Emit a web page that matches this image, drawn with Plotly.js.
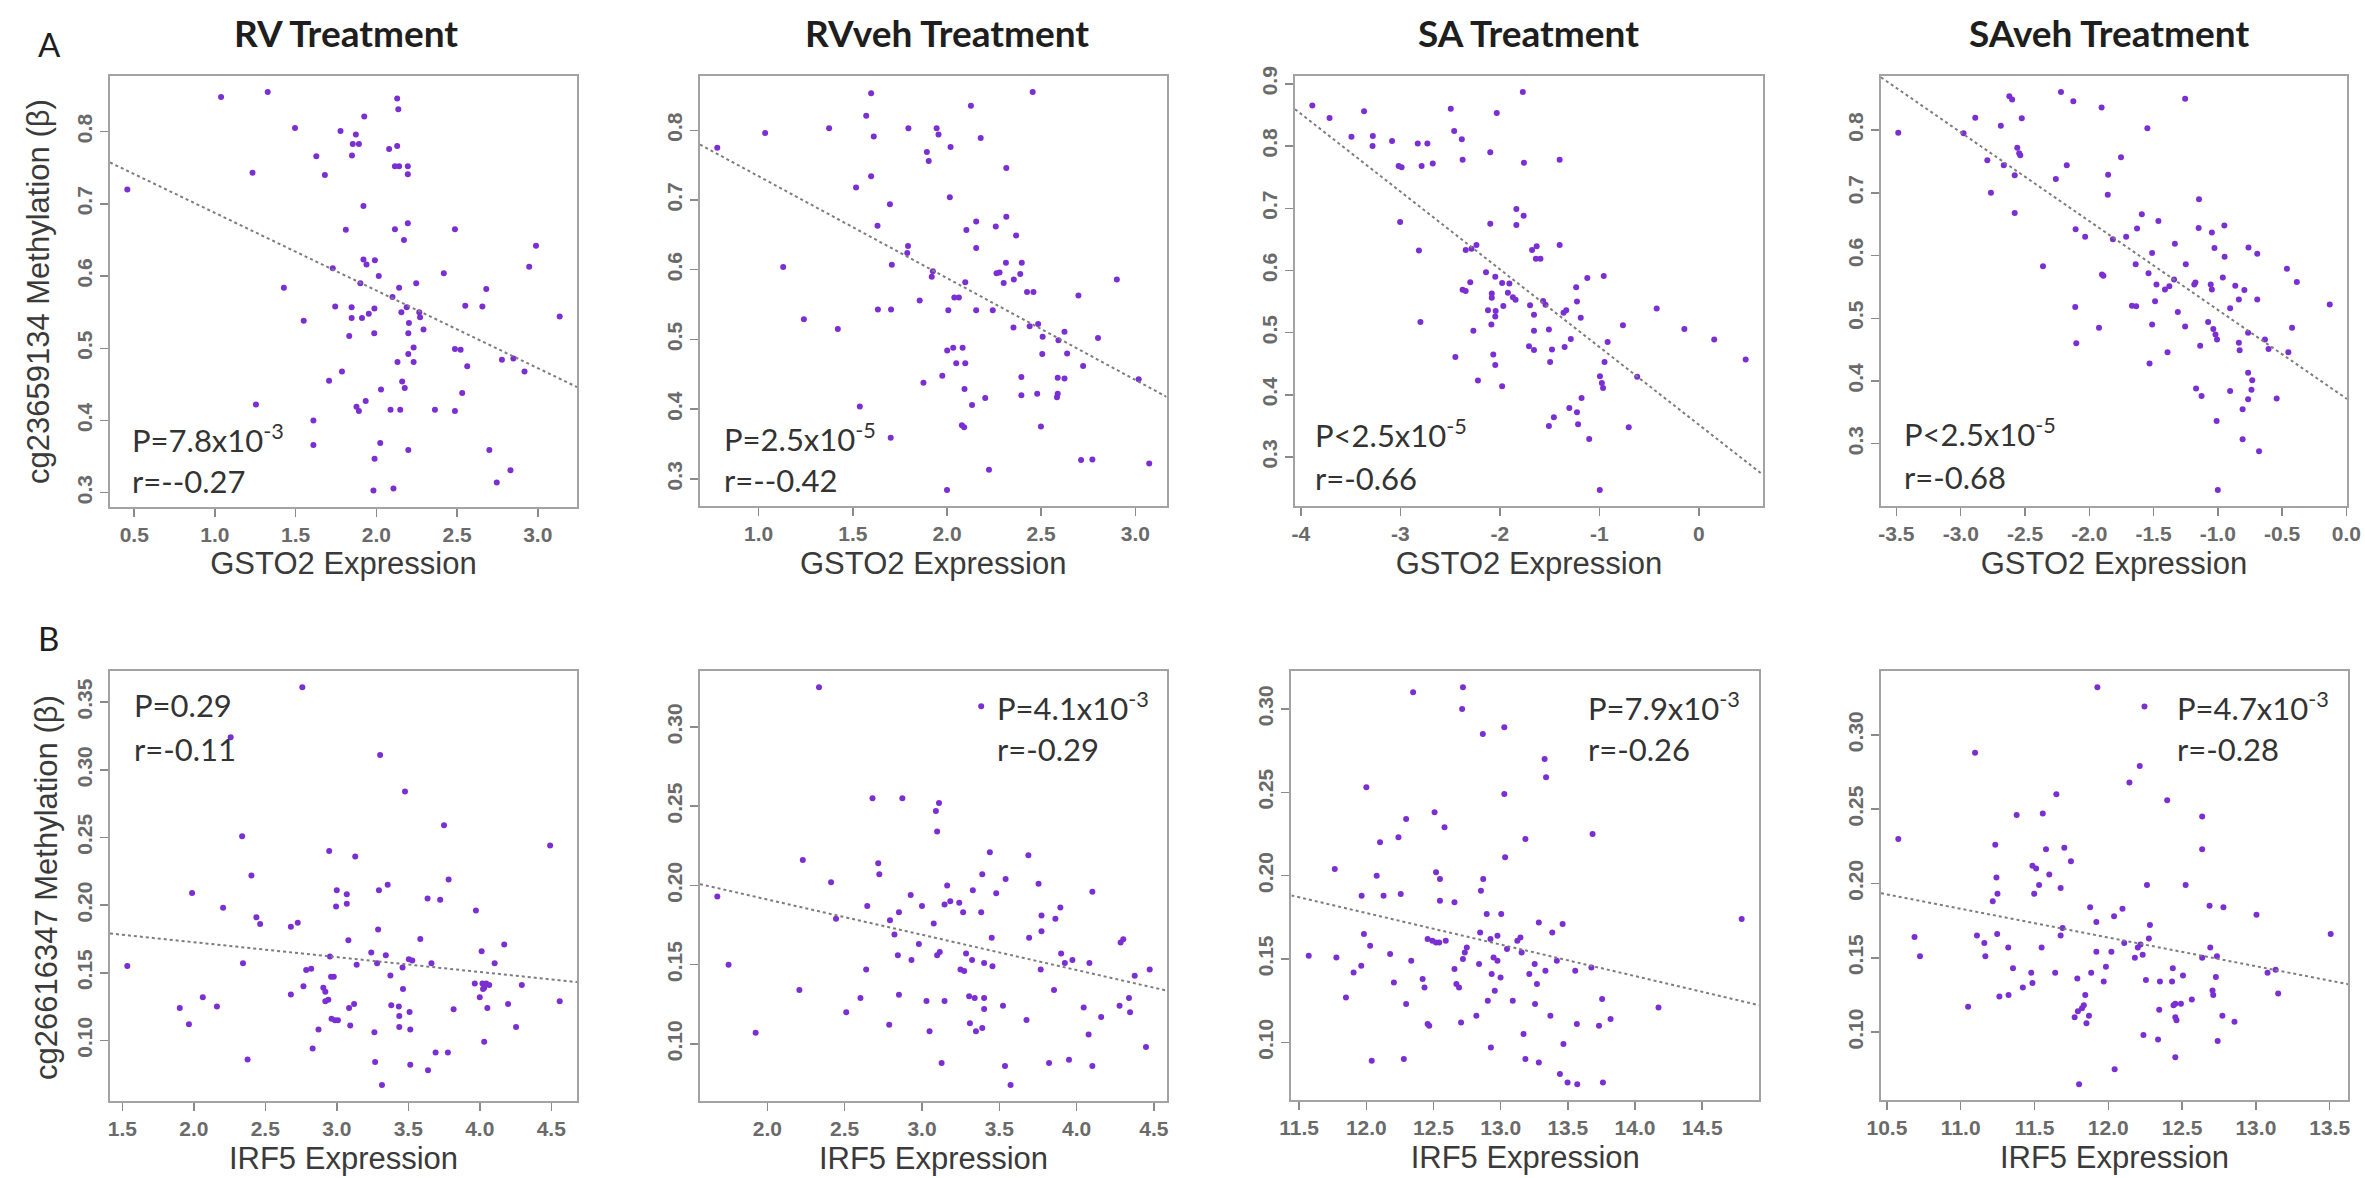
<!DOCTYPE html>
<html><head><meta charset="utf-8">
<script src="https://cdn.plot.ly/plotly-3.0.1.min.js"></script>
<style>html,body{margin:0;padding:0;background:#fff}</style>
</head><body><div id="chart" style="width:2365px;height:1178px"></div>
<script>
// ---------- text ----------
const panelTitles = ['RV Treatment', 'RVveh Treatment', 'SA Treatment', 'SAveh Treatment'];
const rowLetters = ['A', 'B'];
const xAxisTitles = ['GSTO2 Expression', 'GSTO2 Expression', 'GSTO2 Expression', 'GSTO2 Expression',
                     'IRF5 Expression', 'IRF5 Expression', 'IRF5 Expression', 'IRF5 Expression'];
const yAxisTitles = ['cg23659134 Methylation (β)', 'cg26616347 Methylation (β)'];
const pLabels = ['P=7.8x10<sup>-3</sup>', 'P=2.5x10<sup>-5</sup>', 'P<2.5x10<sup>-5</sup>', 'P<2.5x10<sup>-5</sup>',
                 'P=0.29', 'P=4.1x10<sup>-3</sup>', 'P=7.9x10<sup>-3</sup>', 'P=4.7x10<sup>-3</sup>'];
const rLabels = ['r=--0.27', 'r=--0.42', 'r=-0.66', 'r=-0.68', 'r=-0.11', 'r=-0.29', 'r=-0.26', 'r=-0.28'];

// ---------- data: GSTO2 expression vs cg23659134 methylation ----------
const rvGstoX = [0.457,1.038,1.327,1.233,1.496,1.628,1.681,1.427,1.550,1.254,
  1.610,1.610,1.925,1.778,1.873,1.854,1.892,1.849,2.129,2.136,
  2.079,2.129,2.115,2.141,2.195,2.195,1.920,1.811,2.115,2.195,
  2.171,2.487,2.989,2.947,1.730,1.920,1.939,1.991,2.015,1.901,
  2.418,2.681,2.247,2.141,2.100,1.745,1.847,1.847,1.911,1.953,
  1.988,2.155,2.188,2.266,2.271,2.202,2.198,2.292,2.551,2.657,
  3.136,1.987,1.832,2.231,2.198,2.131,2.231,2.487,2.522,2.563,
  2.778,2.849,2.918,1.787,1.707,2.160,2.176,2.029,2.532,1.934,
  1.877,1.892,2.088,2.148,2.363,2.487,2.024,2.198,1.989,2.700,
  2.831,2.746,1.982,2.106];
const rvGstoY = [0.720,0.848,0.855,0.743,0.805,0.766,0.740,0.584,0.538,0.422,
  0.400,0.366,0.821,0.801,0.796,0.783,0.783,0.767,0.846,0.831,
  0.776,0.780,0.752,0.752,0.752,0.741,0.697,0.664,0.665,0.673,
  0.650,0.665,0.642,0.613,0.611,0.623,0.616,0.622,0.600,0.590,
  0.604,0.582,0.590,0.584,0.571,0.558,0.557,0.542,0.542,0.548,
  0.555,0.550,0.557,0.550,0.543,0.535,0.521,0.526,0.559,0.558,
  0.544,0.521,0.517,0.501,0.492,0.481,0.481,0.499,0.498,0.475,
  0.484,0.486,0.468,0.468,0.455,0.454,0.445,0.443,0.438,0.427,
  0.419,0.413,0.415,0.415,0.415,0.413,0.369,0.359,0.347,0.359,
  0.331,0.314,0.303,0.306];

const rvvehGstoX = [0.780,1.034,1.374,1.130,1.240,1.420,1.597,1.571,1.611,1.795,
  1.597,1.517,1.697,1.631,1.945,1.955,1.893,1.903,2.019,2.127,
  2.179,2.455,2.315,2.015,2.103,2.155,2.155,2.259,2.315,2.367,
  1.793,1.789,1.707,1.925,1.919,2.097,2.263,2.279,2.313,2.301,
  2.355,2.389,2.397,2.425,2.459,2.698,2.902,1.633,1.703,1.855,
  2.039,2.063,2.007,2.155,2.243,2.353,2.439,2.484,2.508,2.592,
  2.624,2.802,2.506,2.638,2.723,3.018,2.001,2.033,2.083,2.049,
  2.097,1.975,1.875,2.395,2.588,2.624,2.093,2.395,2.479,2.588,
  2.584,2.133,2.203,1.537,2.079,2.091,2.499,1.701,2.712,2.772,
  3.074,2.223,2.000];
const rvvehGstoY = [0.775,0.796,0.803,0.604,0.529,0.515,0.853,0.821,0.791,0.803,
  0.734,0.718,0.694,0.663,0.803,0.794,0.769,0.756,0.776,0.835,
  0.789,0.855,0.746,0.704,0.657,0.669,0.631,0.662,0.676,0.649,
  0.634,0.624,0.607,0.598,0.590,0.582,0.595,0.596,0.610,0.581,
  0.586,0.594,0.610,0.568,0.568,0.563,0.586,0.543,0.543,0.556,
  0.560,0.560,0.542,0.542,0.542,0.517,0.519,0.522,0.504,0.499,
  0.511,0.502,0.479,0.480,0.462,0.443,0.484,0.488,0.488,0.466,
  0.466,0.448,0.438,0.446,0.445,0.444,0.429,0.420,0.422,0.422,
  0.417,0.406,0.416,0.404,0.377,0.374,0.375,0.359,0.327,0.328,
  0.322,0.313,0.284];

const saGstoX = [-3.884,-3.711,-3.364,-3.491,-3.276,-3.279,-3.083,-2.825,-2.728,-3.017,
  -2.987,-2.786,-2.674,-2.493,-2.031,-1.769,-2.459,-2.382,-2.374,-2.096,
  -1.758,-1.399,-3.002,-1.834,-1.761,-1.834,-2.096,-2.813,-2.343,-2.285,
  -2.235,-1.676,-1.630,-1.638,-1.592,-1.399,-2.798,-2.374,-2.343,-2.297,
  -2.139,-2.046,-1.977,-1.904,-2.081,-2.081,-1.919,-1.869,-1.842,-1.965,
  -2.119,-2.042,-2.046,-2.085,-2.266,-1.696,-1.565,-1.541,-1.657,-1.360,
  -1.333,-1.233,-1.121,-0.956,-1.225,-1.187,-1.657,-1.507,-0.763,-0.424,
  -0.146,0.154,0.470,-1.707,-1.657,-1.476,-1.349,-1.287,-0.917,-1.495,
  -0.948,-2.447,-2.066,-2.046,-2.220,-1.977,-0.620,-0.994,-0.975,-0.963,
  -1.179,-1.302,-1.225,-1.457,-1.507,-1.214,-0.705,-1.102,-0.996];
const saGstoY = [0.865,0.845,0.856,0.815,0.816,0.800,0.808,0.804,0.804,0.768,
  0.766,0.768,0.772,0.860,0.853,0.887,0.824,0.811,0.778,0.790,
  0.773,0.778,0.678,0.699,0.688,0.673,0.675,0.632,0.633,0.635,
  0.641,0.633,0.639,0.619,0.619,0.641,0.517,0.569,0.567,0.581,
  0.597,0.590,0.580,0.579,0.563,0.556,0.564,0.557,0.553,0.543,
  0.536,0.535,0.526,0.513,0.503,0.544,0.551,0.545,0.529,0.532,
  0.536,0.573,0.588,0.591,0.550,0.524,0.503,0.505,0.512,0.539,
  0.506,0.489,0.457,0.478,0.472,0.473,0.477,0.490,0.485,0.453,
  0.453,0.461,0.465,0.448,0.423,0.414,0.429,0.430,0.419,0.411,
  0.395,0.379,0.372,0.364,0.350,0.353,0.348,0.329,0.247];

const savehGstoX = [-3.486,-2.978,-2.887,-2.688,-2.622,-2.600,-2.525,-2.220,-2.124,-1.904,
  -1.254,-1.548,-2.793,-2.665,-2.560,-2.545,-2.537,-2.580,-2.765,-2.580,
  -2.175,-2.260,-1.753,-1.853,-1.856,-2.360,-2.106,-2.032,-1.816,-1.901,
  -1.890,-2.109,-1.924,-2.101,-1.713,-1.628,-1.591,-1.462,-1.511,-1.639,
  -1.539,-1.477,-1.411,-1.377,-1.340,-1.334,-1.249,-1.146,-1.149,-1.046,
  -0.949,-1.026,-0.947,-0.761,-0.693,-0.462,-0.385,-1.183,-1.174,-1.055,
  -1.046,-0.961,-0.864,-0.793,-0.836,-0.693,-0.904,-0.129,-1.668,-1.635,
  -1.488,-1.511,-1.311,-1.254,-1.075,-1.035,-1.018,-1.006,-1.137,-1.391,
  -1.531,-0.764,-0.836,-0.830,-0.633,-0.605,-0.422,-0.451,-0.764,-0.732,
  -0.738,-0.764,-0.807,-0.904,-1.169,-1.126,-0.542,-1.009,-0.807,-0.679,
  -1.000];
const savehGstoY = [0.796,0.795,0.820,0.807,0.854,0.849,0.819,0.861,0.846,0.836,
  0.850,0.803,0.752,0.744,0.772,0.763,0.760,0.728,0.700,0.668,
  0.744,0.722,0.757,0.729,0.697,0.583,0.642,0.630,0.626,0.570,
  0.568,0.518,0.485,0.460,0.630,0.643,0.666,0.655,0.604,0.586,
  0.572,0.554,0.546,0.551,0.562,0.619,0.586,0.690,0.644,0.637,
  0.648,0.612,0.598,0.613,0.603,0.579,0.558,0.554,0.557,0.554,
  0.546,0.565,0.552,0.545,0.530,0.530,0.516,0.522,0.520,0.519,
  0.527,0.490,0.510,0.487,0.494,0.483,0.474,0.466,0.456,0.446,
  0.428,0.477,0.461,0.449,0.466,0.451,0.485,0.446,0.413,0.401,
  0.386,0.371,0.355,0.384,0.388,0.376,0.372,0.336,0.307,0.288,
  0.226];

// ---------- data: IRF5 expression vs cg26616347 methylation ----------
const rvIrfX = [1.535,1.902,1.966,1.988,2.063,2.162,2.205,2.258,2.338,2.344,
  2.376,2.403,2.438,2.464,2.679,2.679,2.727,2.759,2.767,2.786,
  2.821,2.831,2.872,2.906,2.920,2.941,2.920,2.952,2.947,2.960,
  2.979,2.963,2.987,3.008,3.000,2.995,3.070,3.070,3.081,3.086,
  3.121,3.094,3.129,3.139,3.241,3.263,3.268,3.282,3.289,3.295,
  3.303,3.316,3.343,3.356,3.375,3.381,3.434,3.437,3.437,3.463,
  3.460,3.477,3.504,3.528,3.509,3.514,3.514,3.584,3.635,3.638,
  3.662,3.691,3.777,3.723,3.750,3.782,3.817,3.973,3.965,4.019,
  4.045,4.000,4.023,4.031,4.013,4.031,4.053,4.066,4.104,4.171,
  4.198,4.254,4.294,4.492,4.559];
const rvIrfY = [0.155,0.124,0.112,0.209,0.132,0.125,0.198,0.324,0.251,0.157,
  0.086,0.222,0.191,0.186,0.134,0.184,0.187,0.361,0.140,0.152,
  0.153,0.094,0.108,0.139,0.136,0.130,0.129,0.162,0.240,0.147,
  0.147,0.116,0.115,0.115,0.211,0.199,0.208,0.201,0.174,0.124,
  0.127,0.111,0.236,0.156,0.165,0.106,0.084,0.157,0.182,0.211,
  0.311,0.067,0.163,0.215,0.148,0.126,0.125,0.118,0.110,0.138,
  0.154,0.284,0.160,0.159,0.121,0.108,0.082,0.175,0.205,0.078,
  0.157,0.091,0.091,0.204,0.259,0.219,0.123,0.196,0.142,0.142,
  0.142,0.132,0.138,0.139,0.166,0.099,0.124,0.141,0.157,0.171,
  0.127,0.110,0.141,0.244,0.129];

const rvvehIrfX = [1.676,1.749,1.924,2.207,2.229,2.334,2.412,2.444,2.510,2.602,
  2.639,2.646,2.680,2.717,2.724,2.788,2.793,2.822,2.844,2.851,
  2.851,2.873,2.927,2.932,3.000,2.980,3.029,3.049,3.076,3.090,
  3.110,3.098,3.098,3.115,3.127,3.146,3.146,3.163,3.183,3.241,
  3.266,3.249,3.273,3.285,3.305,3.310,3.349,3.329,3.324,3.341,
  3.383,3.390,3.390,3.402,3.402,3.402,3.439,3.451,3.456,3.480,
  3.524,3.537,3.541,3.573,3.383,3.676,3.688,3.693,3.754,3.768,
  3.773,3.773,3.822,3.854,3.863,3.895,3.900,3.924,3.973,3.951,
  4.046,4.078,4.083,4.102,4.102,4.159,4.278,4.285,4.302,4.339,
  4.346,4.376,4.449,4.473];
const rvvehIrfY = [0.193,0.150,0.107,0.134,0.216,0.325,0.202,0.179,0.120,0.129,
  0.147,0.187,0.255,0.214,0.207,0.112,0.178,0.169,0.156,0.183,
  0.131,0.255,0.194,0.153,0.187,0.163,0.127,0.108,0.176,0.247,
  0.252,0.234,0.156,0.158,0.088,0.127,0.188,0.200,0.190,0.189,
  0.183,0.147,0.146,0.157,0.130,0.113,0.108,0.197,0.153,0.129,
  0.183,0.207,0.110,0.151,0.129,0.122,0.221,0.167,0.149,0.195,
  0.124,0.086,0.204,0.074,0.313,0.115,0.219,0.167,0.201,0.147,
  0.181,0.171,0.088,0.134,0.179,0.186,0.157,0.151,0.153,0.090,
  0.123,0.106,0.151,0.196,0.086,0.117,0.124,0.164,0.166,0.129,
  0.120,0.143,0.098,0.147];

const saIrfX = [11.571,11.777,11.765,11.848,11.905,11.962,11.965,11.982,12.000,12.028,
  12.040,12.077,12.102,12.128,12.177,12.205,12.239,12.256,12.279,12.296,
  12.296,12.334,12.348,12.419,12.433,12.456,12.468,12.456,12.491,12.519,
  12.542,12.508,12.519,12.548,12.548,12.582,12.591,12.656,12.656,12.670,
  12.690,12.705,12.719,12.713,12.719,12.733,12.748,12.819,12.839,12.847,
  12.853,12.867,12.870,12.896,12.904,12.924,12.927,12.933,12.947,12.976,
  12.956,12.976,12.999,13.004,13.027,13.027,13.033,13.047,13.090,13.124,
  13.147,13.156,13.170,13.184,13.184,13.213,13.253,13.256,13.270,13.284,
  13.284,13.327,13.338,13.333,13.370,13.384,13.418,13.441,13.461,13.467,
  13.498,13.570,13.555,13.567,13.675,13.684,13.732,13.755,13.761,13.818,
  14.175,14.794];
const saIrfY = [0.152,0.151,0.204,0.127,0.142,0.146,0.188,0.165,0.253,0.158,
  0.089,0.200,0.220,0.188,0.153,0.136,0.223,0.189,0.090,0.234,
  0.123,0.149,0.310,0.138,0.133,0.111,0.110,0.162,0.161,0.160,
  0.160,0.238,0.202,0.198,0.185,0.229,0.161,0.184,0.144,0.135,
  0.133,0.112,0.313,0.300,0.150,0.154,0.157,0.116,0.147,0.166,
  0.191,0.285,0.198,0.177,0.125,0.162,0.097,0.141,0.151,0.149,
  0.131,0.164,0.139,0.177,0.289,0.249,0.211,0.156,0.125,0.161,
  0.163,0.154,0.105,0.090,0.222,0.141,0.147,0.123,0.135,0.088,
  0.172,0.270,0.259,0.143,0.116,0.166,0.149,0.081,0.171,0.099,
  0.076,0.075,0.143,0.111,0.145,0.225,0.110,0.126,0.076,0.114,
  0.121,0.174];

const savehIrfX = [10.577,10.687,10.724,11.050,11.097,11.110,11.160,11.167,11.217,11.234,
  11.242,11.249,11.247,11.262,11.324,11.322,11.354,11.379,11.421,11.478,
  11.486,11.486,11.511,11.498,11.531,11.548,11.556,11.578,11.600,11.648,
  11.640,11.677,11.677,11.690,11.702,11.747,11.772,11.794,11.822,11.834,
  11.790,11.844,11.852,11.869,11.802,11.877,11.884,11.919,11.919,11.926,
  11.969,11.984,12.021,12.039,12.043,12.096,12.108,12.143,12.180,12.200,
  12.218,12.213,12.233,12.238,12.245,12.255,12.262,12.275,12.282,12.337,
  12.345,12.350,12.399,12.432,12.437,12.442,12.454,12.454,12.462,12.454,
  12.492,12.506,12.524,12.566,12.636,12.636,12.636,12.686,12.691,12.706,
  12.711,12.729,12.736,12.741,12.773,12.780,12.855,13.004,13.079,13.134,
  13.151,13.507];
const savehIrfY = [0.230,0.164,0.151,0.117,0.288,0.165,0.160,0.151,0.188,0.226,
  0.204,0.193,0.166,0.124,0.125,0.157,0.143,0.246,0.130,0.140,
  0.133,0.212,0.210,0.193,0.199,0.157,0.247,0.223,0.206,0.260,
  0.140,0.197,0.165,0.170,0.224,0.215,0.110,0.114,0.116,0.118,
  0.136,0.125,0.106,0.111,0.065,0.184,0.140,0.174,0.154,0.332,
  0.134,0.144,0.154,0.178,0.075,0.183,0.160,0.268,0.150,0.157,
  0.159,0.279,0.152,0.098,0.319,0.135,0.199,0.163,0.172,0.095,
  0.115,0.134,0.256,0.134,0.143,0.118,0.119,0.110,0.108,0.083,
  0.119,0.138,0.199,0.122,0.245,0.223,0.150,0.185,0.157,0.128,
  0.125,0.137,0.151,0.094,0.111,0.184,0.107,0.179,0.140,0.142,
  0.126,0.166];

// fitted regression lines: y = intercept + slope * x
const fitSlope     = [-0.1075, -0.146, -0.125, -0.1415, -0.0110, -0.02225, -0.0189, -0.01933];
const fitIntercept = [ 0.795,   0.880,  0.352,  0.372,   0.1946,  0.2356,   0.4044,  0.3956];

// tick values and labels
const xTickVals = [[0.5,1,1.5,2,2.5,3], [1,1.5,2,2.5,3], [-4,-3,-2,-1,0], [-3.5,-3,-2.5,-2,-1.5,-1,-0.5,0],
  [1.5,2,2.5,3,3.5,4,4.5], [2,2.5,3,3.5,4,4.5], [11.5,12,12.5,13,13.5,14,14.5], [10.5,11,11.5,12,12.5,13,13.5]];
const xTickText = [['0.5','1.0','1.5','2.0','2.5','3.0'], ['1.0','1.5','2.0','2.5','3.0'], ['-4','-3','-2','-1','0'],
  ['-3.5','-3.0','-2.5','-2.0','-1.5','-1.0','-0.5','0.0'],
  ['1.5','2.0','2.5','3.0','3.5','4.0','4.5'], ['2.0','2.5','3.0','3.5','4.0','4.5'],
  ['11.5','12.0','12.5','13.0','13.5','14.0','14.5'], ['10.5','11.0','11.5','12.0','12.5','13.0','13.5']];
const yTickVals = [[0.3,0.4,0.5,0.6,0.7,0.8], [0.3,0.4,0.5,0.6,0.7,0.8], [0.3,0.4,0.5,0.6,0.7,0.8,0.9], [0.3,0.4,0.5,0.6,0.7,0.8],
  [0.10,0.15,0.20,0.25,0.30,0.35], [0.10,0.15,0.20,0.25,0.30], [0.10,0.15,0.20,0.25,0.30], [0.10,0.15,0.20,0.25,0.30]];
const yTickText = [['0.3','0.4','0.5','0.6','0.7','0.8'], ['0.3','0.4','0.5','0.6','0.7','0.8'], ['0.3','0.4','0.5','0.6','0.7','0.8','0.9'],
  ['0.3','0.4','0.5','0.6','0.7','0.8'], ['0.10','0.15','0.20','0.25','0.30','0.35'], ['0.10','0.15','0.20','0.25','0.30'],
  ['0.10','0.15','0.20','0.25','0.30'], ['0.10','0.15','0.20','0.25','0.30']];

// ---------- layout (pixels on the 2365x1178 page) ----------
const W = 2365, H = 1178;
const boxes = [[110,577,76,506.5],[700,1166.5,76,506],[1295,1763,76,506],[1881,2347,76,506],
               [110,577,671.4,1101],[700,1167,671.4,1101],[1291.4,1759,671.4,1100],[1881,2348,671.4,1100]];
const titlePos = [[346,32],[947,32],[1529,32],[2109,32]];
const letterPos = [[49,44],[48,638]];
const yTitlePos = [[38,292],[46,888]];
const statPos = [[130,438,481],[722,437,480],[1313,433,478],[1902,432,477],
                 [132,705,749],[995,707,749],[1586,707,749],[2175,707,749]];
const fx = p => p / W, fy = p => 1 - p / H;

const xsAll = [rvGstoX, rvvehGstoX, saGstoX, savehGstoX, rvIrfX, rvvehIrfX, saIrfX, savehIrfX];
const ysAll = [rvGstoY, rvvehGstoY, saGstoY, savehGstoY, rvIrfY, rvvehIrfY, saIrfY, savehIrfY];

function padRange(a) {
  const mn = Math.min(...a), mx = Math.max(...a), p = 0.04 * (mx - mn);
  return [mn - p, mx + p];
}

const purple = '#7b2fd2';
const tickFont = {family: 'Liberation Sans, Arial, sans-serif', size: 21, color: '#6a6a6a', weight: 'bold'};
const titleFont = {family: 'Liberation Sans, Arial, sans-serif', size: 31, color: '#3a3a3a'};

const traces = [];
const layout = {
  width: W, height: H, margin: {l: 0, r: 0, t: 0, b: 0},
  paper_bgcolor: '#fff', plot_bgcolor: '#fff', showlegend: false,
  annotations: [], font: {family: 'Liberation Sans, Arial, sans-serif'}
};

for (let i = 0; i < 8; i++) {
  const s = i === 0 ? '' : String(i + 1);
  const xr = padRange(xsAll[i]), yr = padRange(ysAll[i]);
  traces.push({
    type: 'scatter', mode: 'markers', x: xsAll[i], y: ysAll[i],
    xaxis: 'x' + s, yaxis: 'y' + s,
    marker: {color: purple, size: 6}, hoverinfo: 'x+y'
  });
  traces.push({
    type: 'scatter', mode: 'lines', x: xr,
    y: xr.map(v => fitIntercept[i] + fitSlope[i] * v),
    xaxis: 'x' + s, yaxis: 'y' + s,
    line: {color: '#7d7d7d', width: 2, dash: 'dot'}, hoverinfo: 'skip'
  });
  const b = boxes[i];
  const common = {
    showgrid: false, zeroline: false, showline: true, mirror: true,
    linecolor: '#a3a3a3', linewidth: 2, ticks: 'outside', ticklen: 8, tickwidth: 1.5,
    tickcolor: '#8a8a8a', tickfont: tickFont, fixedrange: true
  };
  layout['xaxis' + s] = Object.assign({}, common, {
    domain: [fx(b[0]), fx(b[1])], range: xr, anchor: 'y' + s,
    tickmode: 'array', tickvals: xTickVals[i], ticktext: xTickText[i],
    title: {text: xAxisTitles[i], font: titleFont, standoff: 8}
  });
  layout['yaxis' + s] = Object.assign({}, common, {
    domain: [fy(b[3]), fy(b[2])], range: yr, anchor: 'x' + s,
    tickmode: 'array', tickvals: yTickVals[i], ticktext: yTickText[i], tickangle: -90
  });

  const sp = statPos[i];
  const statFont = {family: 'Lato, Open Sans, sans-serif', size: 31, color: '#333'};
  layout.annotations.push({xref: 'paper', yref: 'paper', x: fx(sp[0]), y: fy(sp[1]),
    xanchor: 'left', yanchor: 'middle', text: pLabels[i], showarrow: false, font: statFont});
  layout.annotations.push({xref: 'paper', yref: 'paper', x: fx(sp[0]), y: fy(sp[2]),
    xanchor: 'left', yanchor: 'middle', text: rLabels[i], showarrow: false, font: statFont});
}

// y-axis titles of the two rows (drawn rotated beside the left panels)
yAxisTitles.forEach((t, k) => {
  layout.annotations.push({xref: 'paper', yref: 'paper', x: fx(yTitlePos[k][0]), y: fy(yTitlePos[k][1]),
    xanchor: 'center', yanchor: 'middle', text: t, textangle: -90, showarrow: false, font: titleFont});
});
panelTitles.forEach((t, k) => {
  layout.annotations.push({xref: 'paper', yref: 'paper', x: fx(titlePos[k][0]), y: fy(titlePos[k][1]),
    xanchor: 'center', yanchor: 'middle', text: '<b>' + t + '</b>', showarrow: false,
    font: {family: 'Lato, Open Sans, sans-serif', size: 37, color: '#1e1e1e'}});
});
rowLetters.forEach((t, k) => {
  layout.annotations.push({xref: 'paper', yref: 'paper', x: fx(letterPos[k][0]), y: fy(letterPos[k][1]),
    xanchor: 'center', yanchor: 'middle', text: t, showarrow: false,
    font: {family: 'Lato, Open Sans, sans-serif', size: 33, color: '#1e1e1e'}});
});

Plotly.newPlot('chart', traces, layout, {displayModeBar: false, staticPlot: true});
</script>
</body></html>
